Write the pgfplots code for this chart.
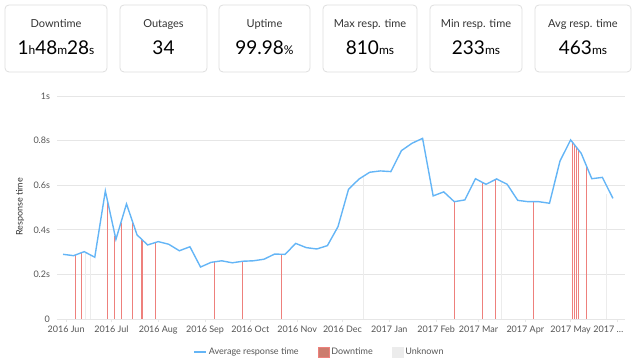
\documentclass[border=0pt]{standalone}
\usepackage{pgfplots}
\pgfplotsset{compat=1.18}
\usepackage{fontspec}
\setmainfont{Lato}
\definecolor{rline}{RGB}{100,181,246}
\definecolor{down}{RGB}{238,128,124}
\definecolor{downleg}{RGB}{204,124,110}
\definecolor{unk}{RGB}{236,236,236}
\definecolor{gridc}{RGB}{230,230,230}
\definecolor{txt}{RGB}{51,51,51}
\definecolor{tickc}{RGB}{85,85,85}
\definecolor{cardb}{RGB}{222,222,222}
\newcommand{\un}[1]{{\fontsize{12}{12}\selectfont #1}}
\newcommand{\card}[4]{%
  \draw[cardb, line width=0.8pt, rounded corners=4pt] (#1pt,291pt) rectangle (#2pt,358pt);
  \node[anchor=base, inner sep=0pt, font=\fontsize{11}{11}\selectfont, text=txt] at ({(#1+#2)/2*1pt},335pt) {#3};
  \node[anchor=base, inner sep=0pt, font=\fontsize{19}{19}\selectfont, text=black] at ({(#1+#2)/2*1pt},308pt) {#4};
}
\begin{document}
\begin{tikzpicture}
\path[use as bounding box] (0pt,0pt) rectangle (640pt,363pt);
\card{5}{107}{Downtime}{1\un{h}48\un{m}28\un{s}}
\card{120}{207}{Outages}{34}
\card{219}{310}{Uptime}{99.98\un{\%}}
\card{323}{417}{Max resp. time}{810\un{ms}}
\card{430}{522}{Min resp. time}{233\un{ms}}
\card{535}{631}{Avg resp. time}{463\un{ms}}
\node[rotate=90, font=\fontsize{9}{9}\selectfont, text=txt] at (20pt,156pt) {Response time};
\begin{axis}[
  at={(57pt,44pt)}, anchor=south west, scale only axis,
  width=568pt, height=223pt,
  xmin=-6, xmax=370, ymin=0, ymax=1,
  axis x line*=bottom, axis y line*=left,
  separate axis lines,
  x axis line style={draw=gridc, line width=0.8pt},
  y axis line style={draw=none},
  ytick={0,0.2,0.4,0.6,0.8,1},
  yticklabels={0,0.2s,0.4s,0.6s,0.8s,1s},
  xtick={0,30,61,92,122,153,183,214,245,273,304,334,365},
  xticklabels={2016 Jun,2016 Jul,2016 Aug,2016 Sep,2016 Oct,2016 Nov,2016 Dec,2017 Jan,2017 Feb,2017 Mar,2017 Apr,2017 May,2017 …\hspace*{18pt}},
  ymajorgrids, grid style={draw=gridc, line width=0.8pt},
  ytick style={draw=none},
  xtick style={draw=gridc, line width=0.8pt},
  tick align=outside, major tick length=3.5pt,
  tick label style={font=\fontsize{9}{9}\selectfont, text=tickc},
  /pgf/number format/assume math mode=true,
  clip=false,
  legend style={at={(axis description cs:0.462,-0.148)}, anchor=center, draw=none, fill=none,
    legend columns=3, font=\fontsize{9}{9}\selectfont, text=tickc,
    /tikz/every even column/.append style={column sep=17pt}},
]
% unknown
\addplot[ycomb, draw=unk, line width=1pt, forget plot] coordinates {
(13,0.300) (16.3,0.287) (196.6,0.635) (288.2,0.616) (357.6,0.56)
};
% downtime
\addplot[ycomb, draw=down, line width=1.2pt, forget plot] coordinates {
(6,0.286) (10,0.297) (27.5,0.527) (32,0.37) (36.6,0.432) (43.8,0.438)
(50.3,0.356) (59.3,0.343) (98,0.256) (116.8,0.259) (142.4,0.290)
(257.3,0.526) (275.6,0.613) (284.4,0.626) (309.3,0.526)
(335.5,0.790) (336.8,0.779) (338,0.769) (339,0.760) (344.3,0.689)
};
% average response time
\addplot[draw=rline, line width=1.4pt, forget plot] coordinates {
(-2,0.290) (5,0.284) (12,0.302) (19,0.277) (26,0.574) (33,0.357) (40,0.516)
(47,0.377) (54,0.332) (61,0.347) (68,0.335) (75,0.306) (82,0.324) (89,0.233)
(96,0.254) (103,0.261) (110,0.252) (117,0.259) (124,0.261) (131,0.268)
(138,0.291) (145,0.290) (152,0.339) (159,0.320) (166,0.314) (173,0.329)
(180,0.414) (187,0.582) (194,0.628) (201,0.658) (208,0.664) (215,0.661)
(222,0.755) (229,0.788) (236,0.810) (243,0.552) (250,0.570) (257,0.526)
(264,0.534) (271,0.629) (278,0.604) (285,0.628) (292,0.604) (299,0.532)
(306,0.526) (313,0.526) (320,0.519) (327,0.709) (334,0.803) (341,0.743)
(348,0.629) (355,0.635) (362,0.541)
};
\addlegendimage{legend image code/.code={\draw[rline,line width=1.5pt] (0pt,0pt) -- (12pt,0pt);}}
\addlegendentry{Average response time}
\addlegendimage{legend image code/.code={\draw[fill=downleg,draw=down,line width=0.6pt] (0pt,-5pt) rectangle (11pt,5pt);}}
\addlegendentry{Downtime}
\addlegendimage{legend image code/.code={\draw[fill=unk,draw=unk] (0pt,-5pt) rectangle (11pt,5pt);}}
\addlegendentry{Unknown}
\end{axis}
\end{tikzpicture}
\end{document}
